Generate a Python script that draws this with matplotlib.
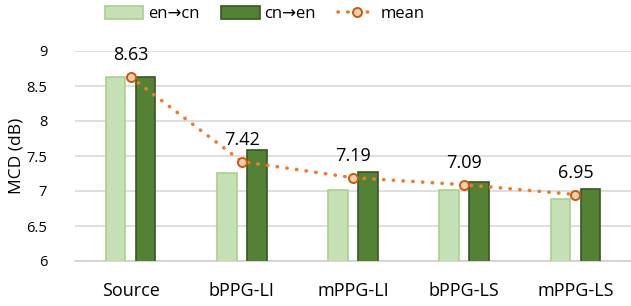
import matplotlib
matplotlib.use("Agg")
import matplotlib.pyplot as plt
import numpy as np

categories = ["Source", "bPPG-LI", "mPPG-LI", "bPPG-LS", "mPPG-LS"]
en_cn = [8.63, 7.26, 7.02, 7.02, 6.89]
cn_en = [8.63, 7.59, 7.27, 7.13, 7.03]
mean = [8.63, 7.42, 7.19, 7.09, 6.95]
mean_labels = ["8.63", "7.42", "7.19", "7.09", "6.95"]
yticks = [6, 6.5, 7, 7.5, 8, 8.5, 9]
ytick_labels = ["6", "6.5", "7", "7.5", "8", "8.5", "9"]

plt.rcParams['font.family'] = ['Open Sans', 'DejaVu Sans']

fig = plt.figure(figsize=(6.31, 3.06), dpi=100)
ax = fig.add_axes([75/631, 1 - 261/306, 1 - 75/631, 210/306])

x = np.arange(len(categories))
off = 0.135
w = 0.175
ax.bar(x - off, en_cn, width=w, color="#C5E0B4", edgecolor="#A9D18E",
       linewidth=1.2, label="en→cn", zorder=3)
ax.bar(x + off, cn_en, width=w, color="#548235", edgecolor="#385723",
       linewidth=1.2, label="cn→en", zorder=3)
ax.plot(x, mean, linestyle=(0, (0.1, 2.6)), dash_capstyle="round", color="#ED7D31",
        linewidth=2.6, marker="o", markersize=6.5, markerfacecolor="#F8CBAD",
        markeredgecolor="#C55A11", markeredgewidth=1.4, label="mean", zorder=4)
for xi, m, lab in zip(x, mean, mean_labels):
    ax.annotate(lab, (xi, m), xytext=(0, 9), textcoords="offset points",
                ha="center", va="bottom", fontsize=13, color="#000000", zorder=5)

ax.set_ylim(6, 9)
ax.set_xlim(-0.5, len(categories) - 0.5)
ax.set_yticks(yticks)
ax.set_yticklabels(ytick_labels, fontsize=10.5)
ax.set_xticks(x)
ax.set_xticklabels(categories, fontsize=13)
ax.tick_params(axis="both", length=0)
ax.tick_params(axis="y", pad=20)
ax.tick_params(axis="x", pad=15)
ax.grid(axis="y", color="#D9D9D9", linewidth=1.2, zorder=0)
ax.set_axisbelow(True)
for s in ["top", "right", "left"]:
    ax.spines[s].set_visible(False)
ax.spines["bottom"].set_color("#D0D0D0")
ax.spines["bottom"].set_linewidth(1.2)
ax.set_ylabel("MCD (dB)", fontsize=12.5, labelpad=1)

handles, labels = ax.get_legend_handles_labels()
order = [1, 2, 0]
fig.legend([handles[i] for i in order], [labels[i] for i in order],
           loc="upper center", bbox_to_anchor=(265/631, 1.03), ncol=3, frameon=False,
           fontsize=12, handlelength=2.3, handleheight=0.8, columnspacing=1.3,
           handletextpad=0.3)

fig.savefig("out.png", dpi=100)
